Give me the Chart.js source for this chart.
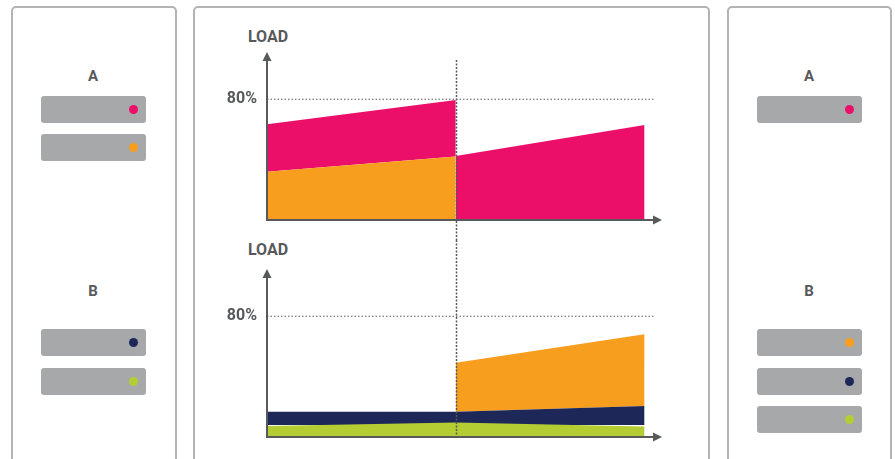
<!DOCTYPE html>
<html>
<head>
<meta charset="utf-8">
<script src="https://cdn.jsdelivr.net/npm/chart.js@4.4.1/dist/chart.umd.min.js"></script>
<style>
  html, body { margin: 0; padding: 0; background: #fff; }
  body { width: 895px; height: 459px; position: relative; overflow: hidden; font-family: Roboto, "Open Sans", sans-serif; }
  .panel { position: absolute; top: 6px; height: 470px; border: 2px solid #b3b3b3; border-radius: 5px; box-sizing: border-box; background: #fff; }
  .label { position: absolute; width: 60px; margin-left: -30px; text-align: center; font-weight: 700; color: #58595b; line-height: 16px; }
  .server { position: absolute; height: 27px; width: 105px; background: #a7a8aa; border-radius: 3px; }
  .server i { position: absolute; right: 8px; top: 9px; width: 9px; height: 9px; border-radius: 50%; }
  canvas { position: absolute; }
</style>
</head>
<body>
<div class="panel" style="left:11px;width:166px"></div>
<div class="panel" style="left:193px;width:517px"></div>
<div class="panel" style="left:727px;width:165px"></div>

<div class="label" style="left:93px;top:68px;font-size:15px">A</div>
<div class="label" style="left:93px;top:283px;font-size:15px">B</div>
<div class="label" style="left:809px;top:68px;font-size:15px">A</div>
<div class="label" style="left:809px;top:283px;font-size:15px">B</div>

<div id="servers"></div>

<div class="label" style="left:268px;top:29px;font-size:16px">LOAD</div>
<div class="label" style="left:268px;top:242px;font-size:16px">LOAD</div>

<canvas id="topChart" width="480" height="200" style="left:200px;top:40px"></canvas>
<canvas id="bottomChart" width="480" height="219" style="left:200px;top:240px"></canvas>

<script>
// colours
const PINK = '#ec0f6a';
const ORANGE = '#f79e1f';
const NAVY = '#1d2859';
const GREEN = '#b4cd33';
const AXIS = '#58595b';

// x positions: start, switch-over, end
const phaseX = [0, 1, 2];
const switchAt = 1;
const xMax = 2.05;
const yMax = 106;
const yTicks = [80];
const thresholdX = [0, xMax];
const thresholdY = [80, 80];

// top chart (server A), load in %
const topOrangeBefore = [32, 42];
const topPinkBefore = [63.4, 79.5];
const topPinkAfter = [42.4, 63];

// bottom chart (server B), load in %
const botGreen = [7.3, 9.6, 7.0];
const botNavyBase = [8, 8, 8];
const botNavy = [16.8, 16.8, 20.5];
const botOrangeBase = [16.8, 20.5];
const botOrange = [49.2, 68.1];

// server boxes in the side panels: [left, top, dot colour]
const serverBoxes = [
    [41, 96, PINK], [41, 134, ORANGE], [41, 329, NAVY], [41, 368, GREEN],
    [757, 96, PINK], [757, 329, ORANGE], [757, 368, NAVY], [757, 406, GREEN]
];

const holder = document.getElementById('servers');
serverBoxes.forEach(([l, t, c]) => {
    const d = document.createElement('div');
    d.className = 'server';
    d.style.left = l + 'px';
    d.style.top = t + 'px';
    d.innerHTML = `<i style="background:${c}"></i>`;
    holder.appendChild(d);
});

function pts(xs, ys) {
    return ys.map((y, i) => ({ x: xs[i], y: y }));
}

function area(xs, ys, color, fill) {
    return {
        data: pts(xs, ys),
        backgroundColor: color,
        borderWidth: 0,
        pointRadius: 0,
        tension: 0,
        fill: fill
    };
}

function base(xs, ys) {
    return { data: pts(xs, ys), borderWidth: 0, pointRadius: 0, fill: false };
}

function threshold() {
    return {
        data: pts(thresholdX, thresholdY),
        borderColor: AXIS,
        borderWidth: 1,
        borderDash: [1.5, 2],
        pointRadius: 0,
        fill: false
    };
}

// axis arrows + dotted switch-over line
const axisArrows = {
    id: 'axisArrows',
    afterDraw(chart) {
        const { ctx, chartArea: a } = chart;
        ctx.save();
        ctx.fillStyle = AXIS;
        ctx.beginPath();
        ctx.moveTo(a.left - 4.5, a.top + 1);
        ctx.lineTo(a.left + 4.5, a.top + 1);
        ctx.lineTo(a.left, a.top - 8);
        ctx.closePath();
        ctx.fill();
        ctx.beginPath();
        ctx.moveTo(a.right - 1, a.bottom - 4.5);
        ctx.lineTo(a.right - 1, a.bottom + 4.5);
        ctx.lineTo(a.right + 8, a.bottom);
        ctx.closePath();
        ctx.fill();
        ctx.restore();
    }
};

const switchLine = {
    id: 'switchLine',
    afterDatasetsDraw(chart, args, opts) {
        const { ctx, chartArea: a } = chart;
        const x = Math.round(chart.scales.x.getPixelForValue(switchAt)) + 0.5;
        const y1 = opts.fromArea ? a.top : 0;
        const y2 = opts.toArea ? a.bottom : chart.height;
        ctx.save();
        ctx.strokeStyle = AXIS;
        ctx.lineWidth = 1.5;
        ctx.setLineDash([2, 1.5]);
        ctx.beginPath();
        ctx.moveTo(x, y1);
        ctx.lineTo(x, y2);
        ctx.stroke();
        ctx.restore();
    }
};

function makeOptions(padTop, padBottom, fromArea, toArea) {
    return {
        responsive: false,
        animation: false,
        layout: { padding: { left: 17, right: 26, top: padTop, bottom: padBottom } },
        plugins: {
            legend: { display: false },
            tooltip: { enabled: false },
            switchLine: { fromArea: fromArea, toArea: toArea }
        },
        scales: {
            x: {
                type: 'linear',
                min: 0,
                max: xMax,
                grid: { display: false },
                ticks: { display: false },
                border: { display: true, color: AXIS, width: 2, z: 1 },
                afterFit: (s) => { s.height = 0; }
            },
            y: {
                min: 0,
                max: yMax,
                afterBuildTicks: (s) => { s.ticks = yTicks.map(v => ({ value: v })); },
                grid: { display: false, drawTicks: false },
                border: { display: true, color: AXIS, width: 2, z: 1 },
                ticks: {
                    padding: 10,
                    color: AXIS,
                    font: { family: 'Roboto', size: 16, weight: 'bold' },
                    callback: (v) => v + '%'
                },
                afterFit: (s) => { s.width = 50; }
            }
        }
    };
}

new Chart(document.getElementById('topChart'), {
    type: 'line',
    data: {
        datasets: [
            area([0, 1], topOrangeBefore, ORANGE, 'origin'),
            area([0, 1], topPinkBefore, PINK, '-1'),
            area([1, 2], topPinkAfter, PINK, 'origin'),
            threshold()
        ]
    },
    options: makeOptions(20, 20, true, false),
    plugins: [axisArrows, switchLine]
});

new Chart(document.getElementById('bottomChart'), {
    type: 'line',
    data: {
        datasets: [
            area(phaseX, botGreen, GREEN, 'origin'),
            base(phaseX, botNavyBase),
            area(phaseX, botNavy, NAVY, '-1'),
            base([1, 2], botOrangeBase),
            area([1, 2], botOrange, ORANGE, '-1'),
            threshold()
        ]
    },
    options: makeOptions(37, 22, false, true),
    plugins: [axisArrows, switchLine]
});
</script>
</body>
</html>
